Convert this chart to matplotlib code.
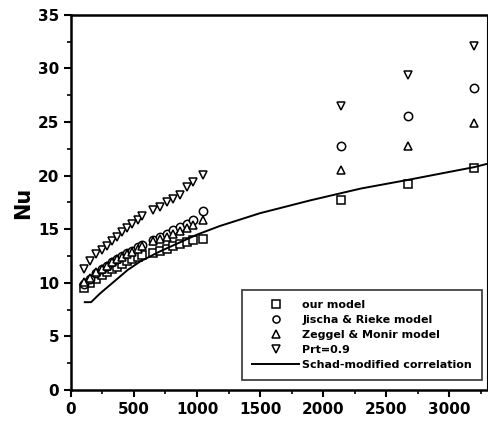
import matplotlib
matplotlib.use('Agg')
import matplotlib.pyplot as plt
from matplotlib.ticker import MultipleLocator

plt.rcParams['font.family'] = ['DejaVu Sans']
plt.rcParams['font.weight'] = 'bold'

#Re values of the simulated points
re = [100, 150, 200, 245, 285, 325, 365, 405, 445, 485, 530, 565,
      650, 705, 760, 810, 865, 920, 970, 1050, 2140, 2670, 3200]

#Nu for each model
nu_our = [9.5, 10.0, 10.4, 10.7, 11.0, 11.3, 11.5, 11.8, 12.0, 12.2, 12.4, 12.6,
          12.8, 13.0, 13.2, 13.4, 13.6, 13.8, 14.0, 14.1, 17.7, 19.2, 20.7]
nu_jischa = [9.9, 10.4, 10.9, 11.3, 11.6, 11.9, 12.2, 12.5, 12.8, 13.0, 13.3, 13.5,
             14.0, 14.3, 14.6, 14.9, 15.2, 15.5, 15.9, 16.7, 22.8, 25.6, 28.2]
nu_zeggel = [10.1, 10.5, 11.0, 11.3, 11.6, 11.9, 12.2, 12.4, 12.7, 12.9, 13.2, 13.4,
             13.9, 14.1, 14.3, 14.6, 14.8, 15.1, 15.4, 15.9, 20.5, 22.8, 24.9]
nu_prt = [11.3, 12.0, 12.7, 13.1, 13.4, 13.9, 14.3, 14.7, 15.1, 15.5, 15.9, 16.2,
          16.8, 17.1, 17.5, 17.8, 18.2, 18.9, 19.4, 20.1, 26.5, 29.4, 32.1]

#Schad-modified correlation
schad_re = [110, 160, 230, 330, 450, 550, 700, 850, 1000, 1180, 1500, 1900, 2300, 2670, 3200, 3300]
schad_nu = [8.2, 8.2, 9.0, 10.0, 11.2, 12.0, 12.9, 13.7, 14.5, 15.3, 16.5, 17.7, 18.8, 19.6, 20.8, 21.1]

fig = plt.figure(figsize=(4.89, 4.24), dpi=100)
ax = fig.add_axes([0.145, 0.080, 0.851, 0.885])

mk = dict(ls='none', mfc='white', mec='black', mew=1.1, ms=6)
ax.plot(re, nu_our, marker='s', label='our model', **mk)
ax.plot(re, nu_jischa, marker='o', label='Jischa & Rieke model', **mk)
ax.plot(re, nu_zeggel, marker='^', label='Zeggel & Monir model', **mk)
ax.plot(re, nu_prt, marker='v', label='Prt=0.9', **mk)
ax.plot(schad_re, schad_nu, c='black', lw=1.4, label='Schad-modified correlation')

ax.set_xlim(0, 3300)
ax.set_ylim(0, 35)
ax.xaxis.set_major_locator(MultipleLocator(500))
ax.xaxis.set_minor_locator(MultipleLocator(250))
ax.yaxis.set_major_locator(MultipleLocator(5))
ax.yaxis.set_minor_locator(MultipleLocator(2.5))
ax.tick_params(which='major', direction='out', length=5, width=1.5, labelsize=11)
ax.tick_params(which='minor', direction='out', length=3, width=1.2)
for s in ['left', 'bottom', 'top']:
    ax.spines[s].set_linewidth(1.8)
ax.spines['right'].set_linewidth(0.8)

ax.set_ylabel('Nu', fontsize=15, fontweight='bold', labelpad=3)

leg = ax.legend(loc='lower right', bbox_to_anchor=(0.988, 0.027), fontsize=8,
                frameon=True, fancybox=False, edgecolor='black',
                handlelength=4.2, labelspacing=0.45, borderaxespad=0,
                handletextpad=0.3, borderpad=0.9, markerscale=0.85)
leg.get_frame().set_linewidth(1.2)

fig.savefig('out.png', dpi=100)
